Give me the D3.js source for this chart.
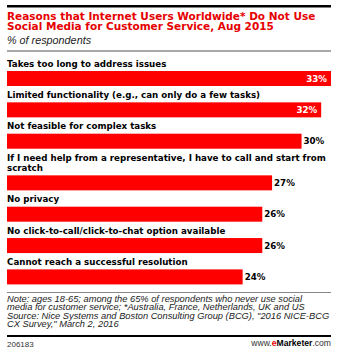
<!DOCTYPE html>
<html><head><meta charset="utf-8">
<script src="https://cdn.jsdelivr.net/npm/d3@7"></script>
<style>body{margin:0;background:#fff}svg{display:block}</style>
</head><body>
<script>
const titleLines = ["Reasons that Internet Users Worldwide* Do Not Use", "Social Media for Customer Service, Aug 2015"];
const subtitle = "% of respondents";
const categories = [
  "Takes too long to address issues",
  "Limited functionality (e.g., can only do a few tasks)",
  "Not feasible for complex tasks",
  "If I need help from a representative, I have to call and start from scratch",
  "No privacy",
  "No click-to-call/click-to-chat option available",
  "Cannot reach a successful resolution"
];
const values = [33, 32, 30, 27, 26, 26, 24];
const noteLines = [
  "Note: ages 18-65; among the 65% of respondents who never use social",
  "media for customer service; *Australia, France, Netherlands, UK and US",
  "Source: Nice Systems and Boston Consulting Group (BCG), \"2016 NICE-BCG",
  "CX Survey,\" March 2, 2016"
];
const chartId = "206183";

const W = 345, H = 361, L = 7, R = 331;
const svg = d3.select("body").append("svg").attr("width", W).attr("height", H);

// header
svg.append("rect").attr("x", L).attr("y", 5).attr("width", R - L).attr("height", 2.5).attr("fill", "#000");
svg.selectAll(".title").data(titleLines).join("text")
  .attr("x", L).attr("y", (d, i) => 19.5 + i * 10.9)
  .attr("font-family", "DejaVu Sans").attr("font-weight", "bold").attr("font-size", 10.5)
  .attr("fill", "#e60000").text(d => d);
svg.append("text").attr("x", L).attr("y", 44.3)
  .attr("font-family", "Liberation Sans").attr("font-style", "italic").attr("font-size", 10.8)
  .attr("fill", "#222").text(subtitle);
svg.append("rect").attr("x", L).attr("y", 50).attr("width", R - L).attr("height", 2).attr("fill", "#a8a8a8");

// scales
const x = d3.scaleLinear().domain([0, d3.max(values)]).range([L, R]);
const step = 31.35, lineH = 10.3, barH = 15;
const y = d3.scaleBand().domain(categories).range([71, 71 + step * categories.length]).paddingInner(0).paddingOuter(0);

const labelFont = {family: "DejaVu Sans", size: 8.7};
// wrap labels
const measure = svg.append("text").attr("font-family", labelFont.family).attr("font-weight", "bold").attr("font-size", labelFont.size);
function wrap(str, maxW) {
  const words = str.split(" "); const lines = []; let cur = "";
  for (const w of words) {
    const t = cur ? cur + " " + w : w;
    measure.text(t);
    if (measure.node().getComputedTextLength() > maxW && cur) { lines.push(cur); cur = w; } else cur = t;
  }
  lines.push(cur); return lines;
}
const wrapped = categories.map(c => wrap(c, 326));
measure.remove();
const extra = []; let acc = 0;
wrapped.forEach((ls, i) => { acc += (ls.length - 1) * lineH; extra.push(acc); });
const barY = (d, i) => y(d) + extra[i];

const g = svg.append("g");
const rows = g.selectAll(".row").data(categories).join("g").attr("class", "row");
rows.append("rect")
  .attr("x", x(0)).attr("y", (d, i) => barY(d, i))
  .attr("width", (d, i) => x(values[i]) - x(0)).attr("height", barH)
  .attr("fill", "#ff0000");
rows.each(function (d, i) {
  const ls = wrapped[i];
  d3.select(this).selectAll(".lbl").data(ls).join("text")
    .attr("x", L).attr("y", (t, j) => barY(d, i) - 4.3 - (ls.length - 1 - j) * lineH)
    .attr("font-family", labelFont.family).attr("font-weight", "bold").attr("font-size", labelFont.size)
    .attr("fill", "#000").text(t => t);
  const vt = d3.select(this).append("text")
    .attr("y", barY(d, i) + barH / 2 + 3.2)
    .attr("font-family", labelFont.family).attr("font-weight", "bold").attr("font-size", labelFont.size)
    .text(values[i] + "%");
  const tw = vt.node().getComputedTextLength();
  const xe = x(values[i]);
  if (xe + 2 + tw > R) vt.attr("x", xe - 4).attr("text-anchor", "end").attr("fill", "#fff");
  else vt.attr("x", xe + 2).attr("fill", "#000");
});

// footer
svg.append("rect").attr("x", L).attr("y", 292).attr("width", R - L).attr("height", 1).attr("fill", "#888");
svg.selectAll(".note").data(noteLines).join("text")
  .attr("x", L).attr("y", (d, i) => 301.5 + i * 8.6)
  .attr("font-family", "Liberation Sans").attr("font-style", "italic").attr("font-size", 9.3)
  .attr("fill", "#222").text(d => d);
svg.append("rect").attr("x", L).attr("y", 335).attr("width", R - L).attr("height", 2).attr("fill", "#000");
svg.append("text").attr("x", L).attr("y", 346.5)
  .attr("font-family", "Liberation Sans").attr("font-size", 8).attr("fill", "#333").text(chartId);
const brand = svg.append("text").attr("x", R).attr("y", 346).attr("text-anchor", "end")
  .attr("font-family", "Liberation Sans").attr("font-size", 8.6).attr("fill", "#333");
brand.append("tspan").text("www.");
brand.append("tspan").attr("fill", "#e60000").attr("font-weight", "bold").text("e");
brand.append("tspan").attr("fill", "#000").attr("font-weight", "bold").text("Marketer");
brand.append("tspan").text(".com");
</script>
</body></html>
